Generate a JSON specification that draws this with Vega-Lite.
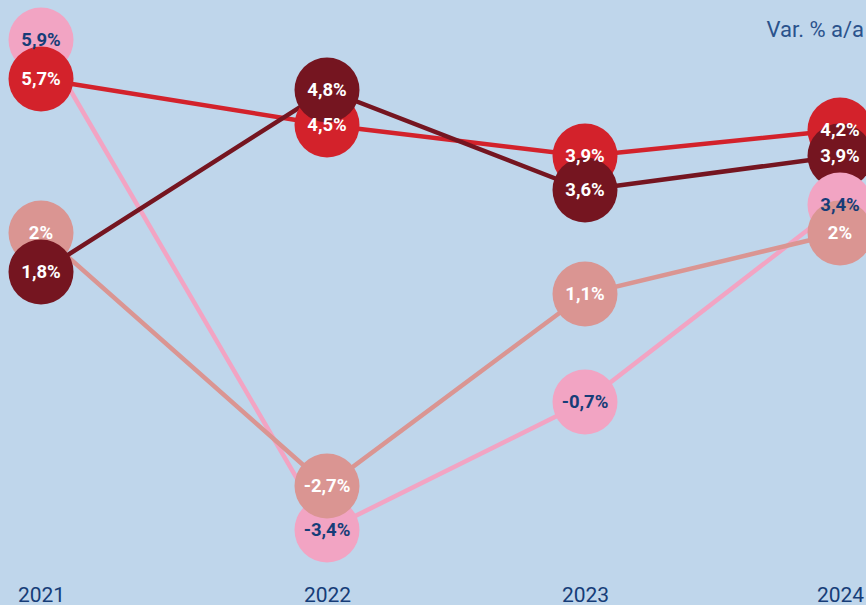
{
  "$schema": "https://vega.github.io/schema/vega-lite/v6.json",
  "width": 883,
  "height": 580,
  "autosize": "none",
  "padding": {"left": 0, "top": 0, "right": 0, "bottom": 25},
  "background": "#bfd6eb",
  "config": {
    "view": {"stroke": null, "fill": "#bfd6eb"},
    "locale": {"number": {"decimal": ",", "thousands": ".", "grouping": [3], "currency": ["", " €"]}}
  },
  "title": {
    "text": "Var. % a/a",
    "anchor": "end",
    "frame": "group",
    "font": "Roboto",
    "fontSize": 22,
    "fontWeight": "normal",
    "color": "#2a528c",
    "baseline": "alphabetic",
    "offset": -59,
    "dx": -19
  },
  "data": {
    "values": [
      {"anno": 2021, "serie": "Serie 1", "valore": 5.9},
      {"anno": 2021, "serie": "Serie 2", "valore": 5.7},
      {"anno": 2021, "serie": "Serie 4", "valore": 2.0},
      {"anno": 2021, "serie": "Serie 3", "valore": 1.8},
      {"anno": 2022, "serie": "Serie 2", "valore": 4.5},
      {"anno": 2022, "serie": "Serie 3", "valore": 4.8},
      {"anno": 2022, "serie": "Serie 1", "valore": -3.4},
      {"anno": 2022, "serie": "Serie 4", "valore": -2.7},
      {"anno": 2023, "serie": "Serie 1", "valore": -0.7},
      {"anno": 2023, "serie": "Serie 2", "valore": 3.9},
      {"anno": 2023, "serie": "Serie 3", "valore": 3.6},
      {"anno": 2023, "serie": "Serie 4", "valore": 1.1},
      {"anno": 2024, "serie": "Serie 2", "valore": 4.2},
      {"anno": 2024, "serie": "Serie 3", "valore": 3.9},
      {"anno": 2024, "serie": "Serie 1", "valore": 3.4},
      {"anno": 2024, "serie": "Serie 4", "valore": 2.0}
    ]
  },
  "encoding": {
    "x": {
      "field": "anno",
      "type": "quantitative",
      "scale": {
        "type": "linear",
        "domain": [2021, 2022, 2023, 2024],
        "range": [41, 327, 585, 840],
        "nice": false,
        "zero": false
      },
      "axis": {
        "title": null,
        "values": [2021, 2022, 2023, 2024],
        "format": "d",
        "domain": false,
        "ticks": false,
        "tickSize": 0,
        "grid": false,
        "labelAngle": 0,
        "labelPadding": 21,
        "labelBaseline": "alphabetic",
        "labelFlush": false,
        "labelOverlap": false,
        "labelFont": "Roboto",
        "labelFontSize": 21,
        "labelColor": "#163d78"
      }
    },
    "y": {
      "field": "valore",
      "type": "quantitative",
      "scale": {
        "type": "linear",
        "domain": [-3.4, -2.7, -0.7, 1.1, 1.8, 2.0, 3.4, 3.6, 3.9, 4.2, 4.5, 4.8, 5.7, 5.9],
        "range": [530, 486, 402, 294, 272, 233, 205, 190, 156, 130, 125, 90, 79, 40],
        "nice": false,
        "zero": false
      },
      "axis": null
    },
    "color": {
      "field": "serie",
      "type": "nominal",
      "scale": {
        "domain": ["Serie 1", "Serie 2", "Serie 3", "Serie 4"],
        "range": ["#f2a4c3", "#d3222b", "#751520", "#da9592"]
      },
      "legend": null
    }
  },
  "layer": [
    {"mark": {"type": "line", "strokeWidth": 4.5}},
    {"mark": {"type": "circle", "size": 4225, "opacity": 1}},
    {
      "mark": {
        "type": "text",
        "font": "Roboto",
        "fontWeight": "bold",
        "fontSize": 18.5,
        "text": {"expr": "replace(format(datum.valore, '.1~f'), '\u2212', '-') + '%'"}
      },
      "encoding": {
        "color": {
          "condition": {"test": "datum.serie === 'Serie 1'", "value": "#163d78"},
          "value": "#ffffff"
        }
      }
    }
  ]
}
